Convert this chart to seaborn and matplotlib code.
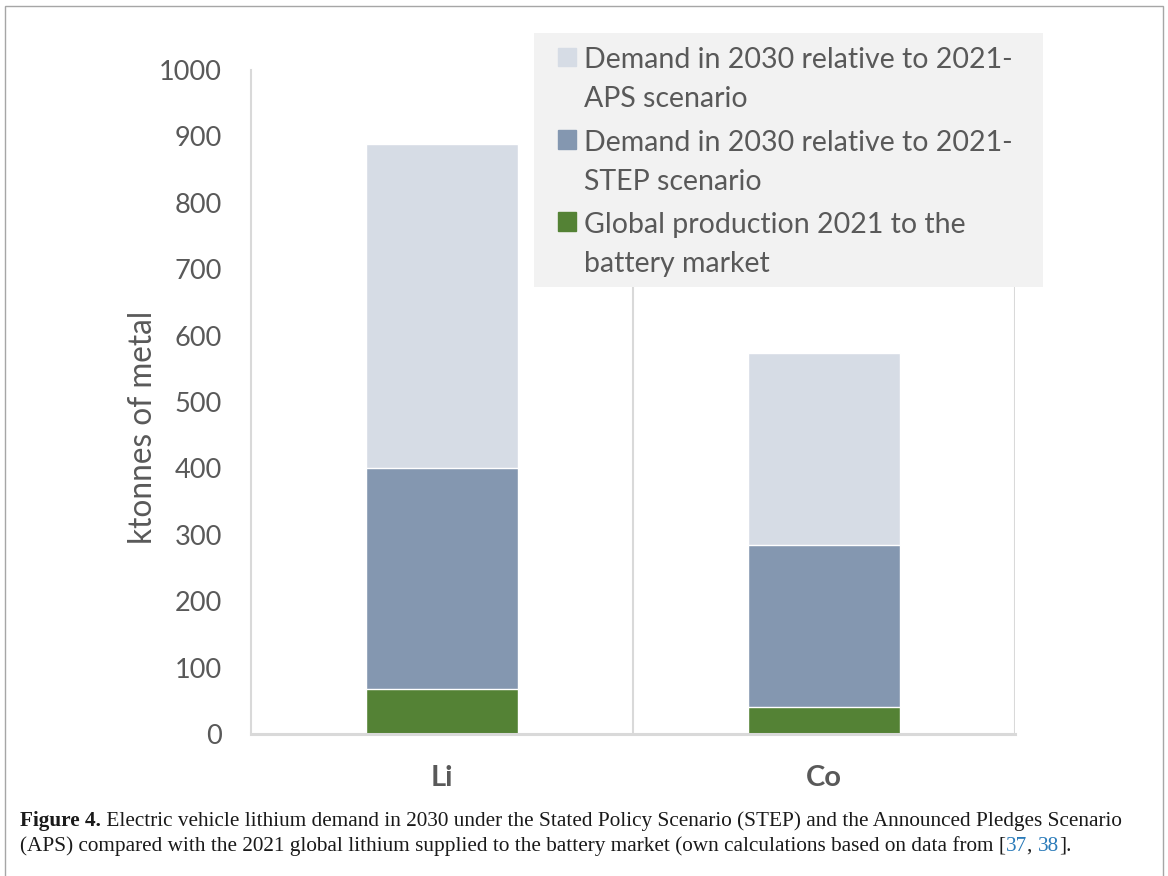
import numpy as np
import pandas as pd
import matplotlib
matplotlib.use("Agg")
import matplotlib.pyplot as plt
from matplotlib.patches import Rectangle, Patch
from matplotlib.legend_handler import HandlerPatch
import seaborn as sns

# datos (ktonnes de metal)
metals = ["Li", "Co"]
production_2021 = [68, 40]
step_increase = [332, 244]
aps_increase = [488, 290]

labels = [
    "Demand in 2030 relative to 2021-\nAPS scenario",
    "Demand in 2030 relative to 2021-\nSTEP scenario",
    "Global production 2021 to the\nbattery market",
]
y_ticks = [0, 100, 200, 300, 400, 500, 600, 700, 800, 900, 1000]

c_aps = "#d6dce5"
c_step = "#8497b0"
c_prod = "#548235"
c_text = "#595959"
c_grid = "#d9d9d9"

df = pd.DataFrame({"metal": metals, "prod": production_2021,
                   "step": step_increase, "aps": aps_increase})
df["step_top"] = df["prod"] + df["step"]
df["aps_top"] = df["step_top"] + df["aps"]

sns.set_style("white")
plt.rcParams["font.family"] = ["Lato", "DejaVu Sans"]

fig = plt.figure(figsize=(11.68, 8.76), dpi=100)
ax = fig.add_axes([251 / 1168, 1 - 734 / 876, (1015 - 251) / 1168, (734 - 70) / 876])

# barras apiladas (se dibujan los totales superpuestos)
sns.barplot(data=df, x="metal", y="aps_top", color=c_aps, width=0.4,
            saturation=1, ax=ax, zorder=3)
sns.barplot(data=df, x="metal", y="step_top", color=c_step, width=0.4,
            saturation=1, ax=ax, zorder=3)
sns.barplot(data=df, x="metal", y="prod", color=c_prod, width=0.4,
            saturation=1, ax=ax, zorder=3)

ax.set_xlim(-0.5, 1.5)
ax.set_ylim(0, 1000)
ax.set_yticks(y_ticks)
ax.tick_params(axis="y", length=0, pad=21, labelsize=19.5, labelcolor=c_text)
ax.tick_params(axis="x", length=0, pad=22.5, labelsize=21, labelcolor=c_text)
for t in ax.get_xticklabels():
    t.set_fontweight("bold")

ax.set_xlabel("")
ax.set_ylabel("ktonnes of metal", fontsize=22.7, color=c_text)
ax.yaxis.set_label_coords(-0.122, 0.462)

for s in ["top", "right"]:
    ax.spines[s].set_visible(False)
ax.spines["left"].set_color(c_grid)
ax.spines["left"].set_linewidth(1.5)
ax.spines["bottom"].set_color(c_grid)
ax.spines["bottom"].set_linewidth(2.2)
ax.spines["bottom"].set_zorder(4)
for xv in [0.5, 1.5]:
    ax.axvline(xv, color=c_grid, lw=1.5, zorder=1)


# cuadro de leyenda alineado con la primera linea del texto
def top_square(legend, orig_handle, xdescent, ydescent, width, height, fontsize):
    shift = fontsize * 0.82
    return Rectangle((-xdescent, -ydescent + shift), width, height)


# fondo gris de la leyenda (caja fija como en Excel)
fig.add_artist(Rectangle((534 / 1168, 1 - 287 / 876), (1043 - 534) / 1168,
                         (287 - 33) / 876, transform=fig.transFigure,
                         facecolor="#f2f2f2", edgecolor="none", zorder=2))

handles = [Patch(color=c_aps), Patch(color=c_step), Patch(color=c_prod)]
leg = fig.legend(handles, labels, loc="upper left",
                 bbox_to_anchor=(534 / 1168, 1 - 23 / 876 - 0.01, (1043 - 534) / 1168, 0.01),
                 mode="expand", fontsize=20.5, frameon=False,
                 borderaxespad=0, borderpad=0.85,
                 handlelength=0.63, handleheight=0.63, handletextpad=0.28,
                 labelspacing=0.61,
                 handler_map={Patch: HandlerPatch(patch_func=top_square)})
leg.set_zorder(3)
for t in leg.get_texts():
    t.set_color(c_text)
    t.set_linespacing(1.62)

# marco de la figura
fig.add_artist(Rectangle((5 / 1168, -0.05), (1163 - 5) / 1168, 1.05 - 6 / 876,
                         transform=fig.transFigure, fill=False,
                         edgecolor="#a6a6a6", lw=1))

# pie de figura
cap_font = ["Liberation Serif", "DejaVu Serif"]
cap_size = 15.35
blue = "#2b7bb9"
t1 = fig.text(20 / 1168, 1 - 826 / 876, "Figure 4.", fontsize=cap_size,
              family=cap_font, fontweight="bold", color="#1a1a1a")
t2 = ax.annotate(" Electric vehicle lithium demand in 2030 under the Stated Policy "
                 "Scenario (STEP) and the Announced Pledges Scenario",
                 xy=(1, 0), xycoords=t1, va="bottom", ha="left",
                 fontsize=cap_size, family=cap_font, color="#1a1a1a",
                 annotation_clip=False)
l2 = fig.text(20 / 1168, 1 - 851 / 876, "(APS) compared with the 2021 global lithium "
              "supplied to the battery market (own calculations based on data from [",
              fontsize=cap_size, family=cap_font, color="#1a1a1a")
prev = l2
for piece, col in [("37", blue), (", ", "#1a1a1a"), ("38", blue), ("].", "#1a1a1a")]:
    prev = ax.annotate(piece, xy=(1, 0), xycoords=prev, va="bottom", ha="left",
                       fontsize=cap_size, family=cap_font, color=col,
                       annotation_clip=False)

plt.savefig("out.png", dpi=100)
